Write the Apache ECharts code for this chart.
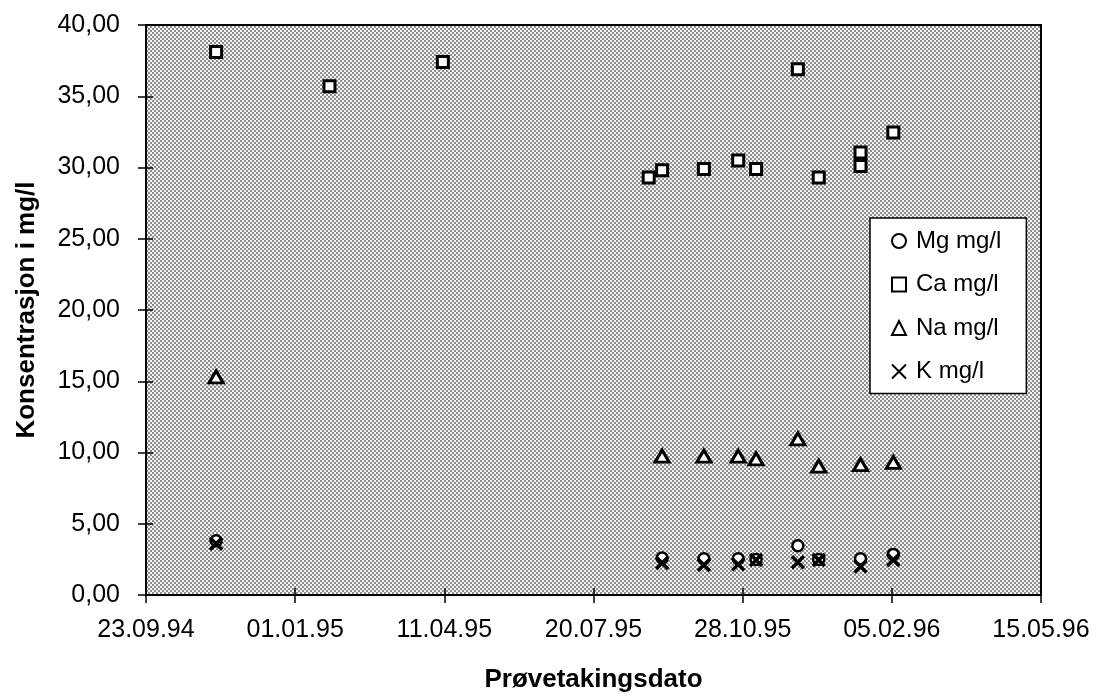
<!DOCTYPE html>
<html><head><meta charset="utf-8">
<script src="https://cdn.jsdelivr.net/npm/echarts@6/dist/echarts.min.js"></script>
<style>html,body{margin:0;padding:0;background:#fff}#c{width:1096px;height:698px}</style>
</head><body><div id="c"></div>
<script>
// ---- data ----
const baseDate = '1994-09-23';
const xTickLabels = ['23.09.94','01.01.95','11.04.95','20.07.95','28.10.95','05.02.96','15.05.96'];
const seriesNames = ['Mg mg/l','Ca mg/l','Na mg/l','K mg/l'];

const mgDates = ['1994-11-09','1995-09-04','1995-10-02','1995-10-25','1995-11-06','1995-12-04','1995-12-18','1996-01-15','1996-02-06'];
const mgValues = [3.8, 2.6, 2.55, 2.55, 2.5, 3.45, 2.5, 2.55, 2.85];

const caDates = ['1994-11-09','1995-01-24','1995-04-10','1995-08-26','1995-09-04','1995-10-02','1995-10-25','1995-11-06','1995-12-04','1995-12-18','1996-01-15','1996-01-15','1996-02-06'];
const caValues = [38.1, 35.7, 37.4, 29.3, 29.8, 29.9, 30.5, 29.9, 36.9, 29.3, 31.05, 30.1, 32.45];

const naDates = ['1994-11-09','1995-09-04','1995-10-02','1995-10-25','1995-11-06','1995-12-04','1995-12-18','1996-01-15','1996-02-06'];
const naValues = [15.3, 9.75, 9.75, 9.75, 9.55, 10.95, 9.05, 9.15, 9.3];

const kDates = ['1994-11-09','1995-09-04','1995-10-02','1995-10-25','1995-11-06','1995-12-04','1995-12-18','1996-01-15','1996-02-06'];
const kValues = [3.6, 2.25, 2.1, 2.15, 2.45, 2.3, 2.45, 2.0, 2.45];

// ---- helpers ----
const DAY = 86400000;
const base = Date.parse(baseDate + 'T00:00:00Z');
function dayOf(s){ return (Date.parse(s + 'T00:00:00Z') - base) / DAY; }
function pairs(dates, vals){ return dates.map((d,i)=>[dayOf(d), vals[i]]); }

// dotted background pattern
const pc = document.createElement('canvas');
pc.width = 4; pc.height = 4;
const g = pc.getContext('2d');
g.fillStyle = '#f4f4f4'; g.fillRect(0,0,4,4);
g.fillStyle = '#8e8e8e'; g.fillRect(0,0,2,2); g.fillRect(2,2,2,2);

const FONT = 'Liberation Sans, Arial, sans-serif';
const chart = echarts.init(document.getElementById('c'), null, {renderer:'canvas'});

const xBase = {
  type:'value', min:0, max:600, interval:100, position:'bottom',
  splitLine:{show:false}
};
const yBase = {
  type:'value', min:0, max:40, interval:5, position:'left',
  splitLine:{show:false}
};

chart.setOption({
  animation:false,
  backgroundColor:'#fff',
  grid:{left:146, right:55, top:25, bottom:100, show:true,
        backgroundColor:{image:pc, repeat:'repeat'},
        borderColor:'#000', borderWidth:2},
  xAxis:[
    Object.assign({}, xBase, {
      axisLine:{show:true, lineStyle:{color:'#000', width:2}},
      axisTick:{show:true, inside:false, length:8, lineStyle:{color:'#000', width:1.5}},
      axisLabel:{margin:23, fontSize:25, color:'#000', fontFamily:FONT,
        formatter:v => xTickLabels[Math.round(v/100)] || ''},
      name:'Prøvetakingsdato', nameLocation:'middle', nameGap:72,
      nameTextStyle:{fontSize:26, fontWeight:'bold', color:'#000', fontFamily:FONT}
    }),
    Object.assign({}, xBase, {
      axisLine:{show:false},
      axisTick:{show:true, inside:true, length:7, lineStyle:{color:'#000', width:1.5}},
      axisLabel:{show:false}
    })
  ],
  yAxis:[
    Object.assign({}, yBase, {
      axisLine:{show:true, lineStyle:{color:'#000', width:2}},
      axisTick:{show:true, inside:false, length:8, lineStyle:{color:'#000', width:1.5}},
      axisLabel:{margin:26, fontSize:25, color:'#000', fontFamily:FONT,
        formatter:v => v.toFixed(2).replace('.', ',')},
      name:'Konsentrasjon i mg/l', nameLocation:'middle', nameGap:106, nameRotate:90,
      nameTextStyle:{fontSize:26, fontWeight:'bold', color:'#000', fontFamily:FONT}
    }),
    Object.assign({}, yBase, {
      axisLine:{show:false},
      axisTick:{show:true, inside:true, length:7, lineStyle:{color:'#000', width:1.5}},
      axisLabel:{show:false}
    })
  ],
  legend:{
    orient:'vertical', left:870, top:218,
    data:seriesNames,
    backgroundColor:'#fff', borderColor:'#000', borderWidth:1.5,
    padding:[11, 25, 10, 21],
    itemWidth:14, itemHeight:14, itemGap:19.5,
    textStyle:{fontSize:24, color:'#000', fontFamily:FONT, padding:[0,0,0,5]}
  },
  series:[
    {name:seriesNames[1], type:'scatter', data:pairs(caDates, caValues),
     symbol:'rect', symbolSize:11, z:2,
     itemStyle:{color:'#fff', borderColor:'#000', borderWidth:3, opacity:1}},
    {name:seriesNames[2], type:'scatter', data:pairs(naDates, naValues),
     symbol:'triangle', symbolSize:[14,12], z:3,
     itemStyle:{color:'#fff', borderColor:'#000', borderWidth:3, opacity:1}},
    {name:seriesNames[0], type:'scatter', data:pairs(mgDates, mgValues),
     symbol:'circle', symbolSize:11, z:4,
     itemStyle:{color:'#fff', borderColor:'#000', borderWidth:2.5, opacity:1}},
    {name:seriesNames[3], type:'scatter', data:pairs(kDates, kValues),
     symbol:'path://M0,0L12,12M12,0L0,12', symbolSize:12, z:5,
     itemStyle:{color:'#000', borderColor:'#000', borderWidth:3.5, opacity:1}}
  ]
});
</script>
</body></html>
